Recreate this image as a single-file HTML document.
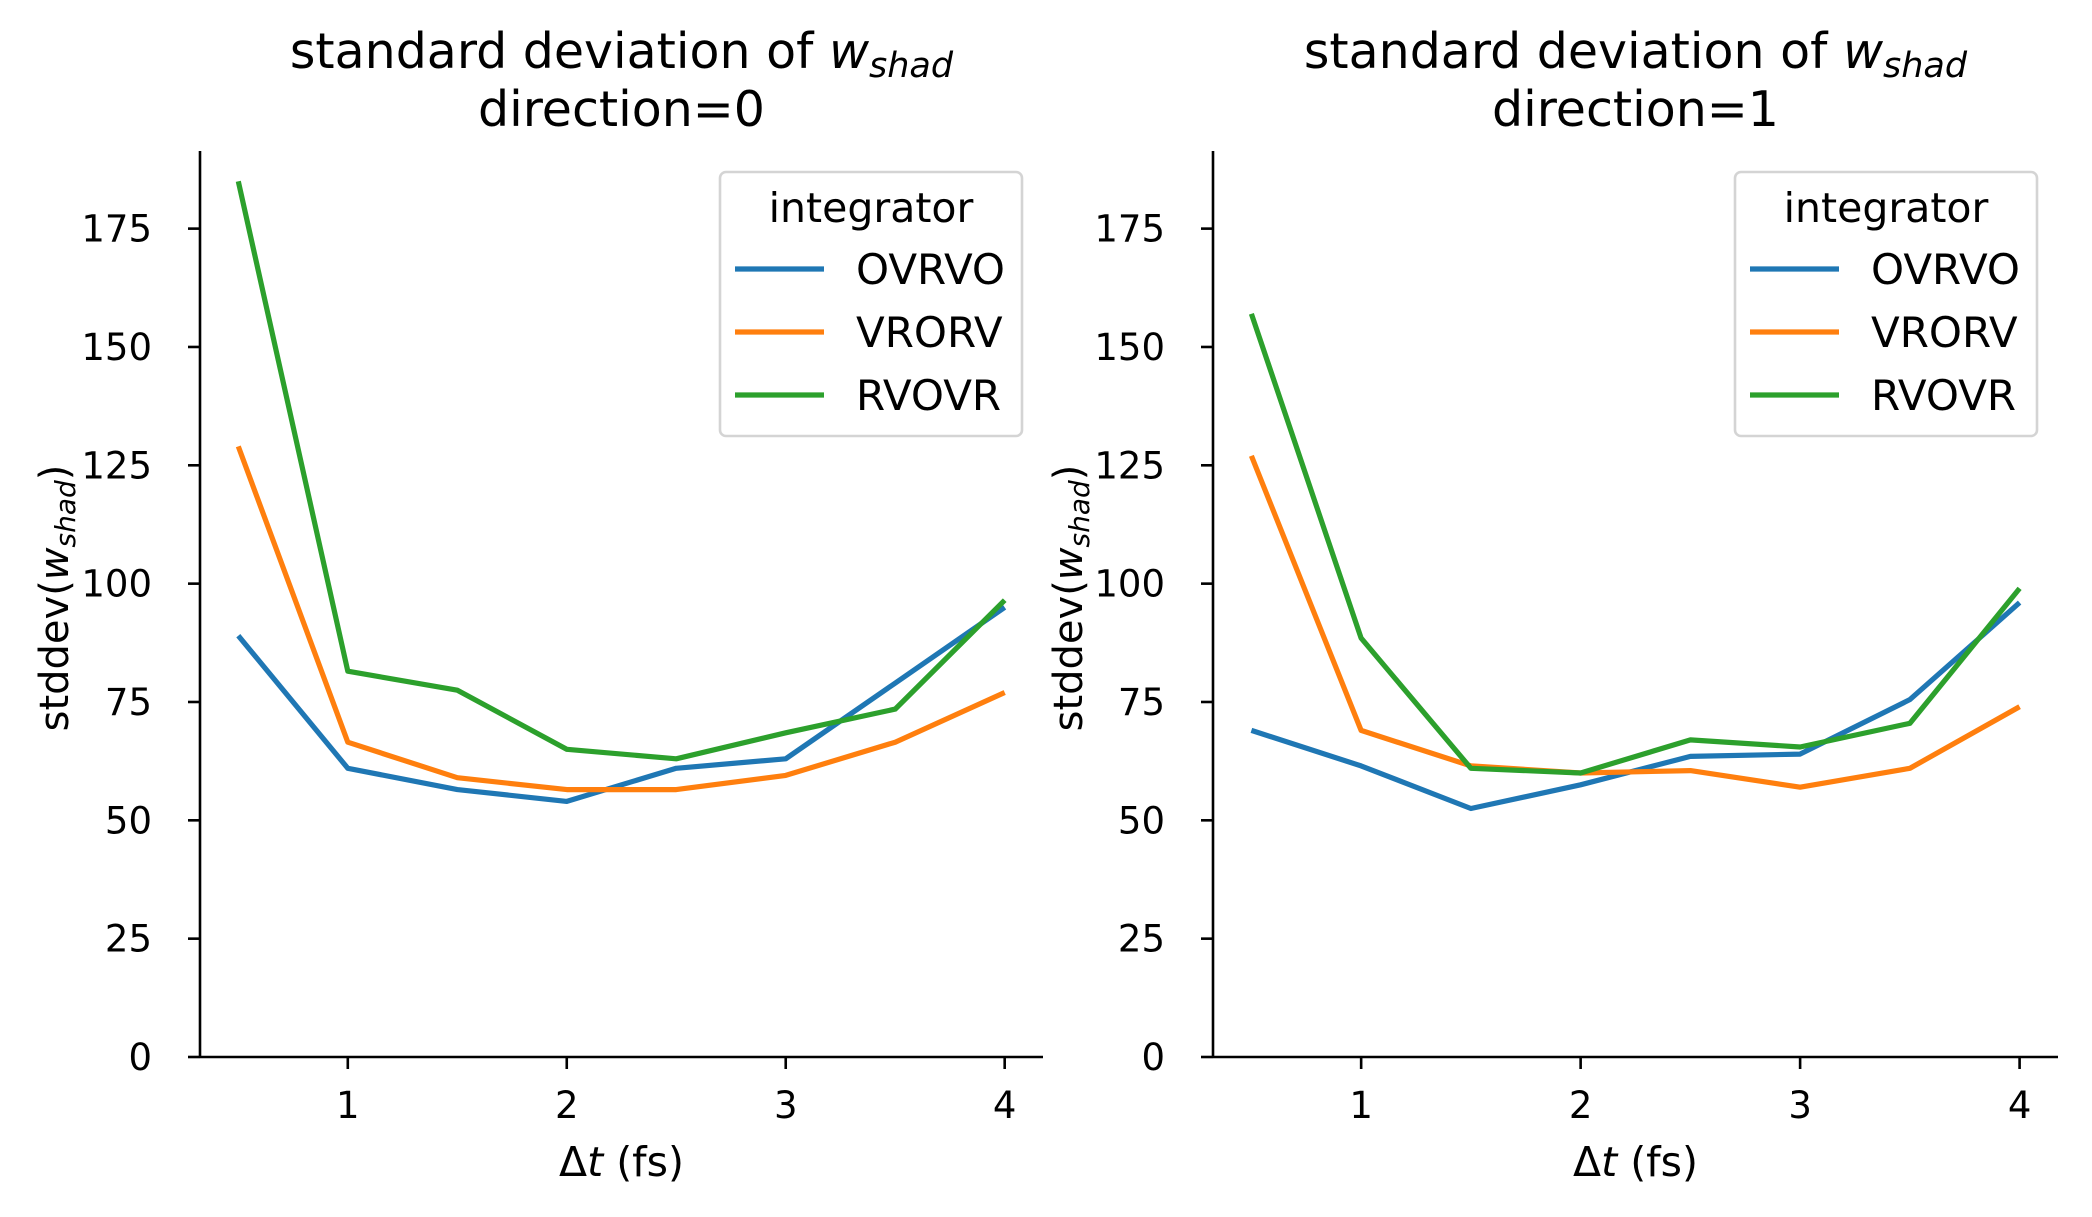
<!DOCTYPE html>
<html><head><meta charset="utf-8">
<style>
html,body{margin:0;padding:0;background:#fff;}
svg{display:block;font-family:"DejaVu Sans","Liberation Sans",sans-serif;}
</style></head>
<body>
<svg id="fig" width="2092" height="1217" viewBox="0 0 2092 1217" xmlns="http://www.w3.org/2000/svg"></svg>
<script>
const categories = [0.5, 1, 1.5, 2, 2.5, 3, 3.5, 4];
const seriesNames = ["OVRVO", "VRORV", "RVOVR"];
const dir0_OVRVO = [89, 61, 56.5, 54, 61, 63, 79, 95];
const dir0_VRORV = [129, 66.5, 59, 56.5, 56.5, 59.5, 66.5, 77];
const dir0_RVOVR = [185, 81.5, 77.5, 65, 63, 68.5, 73.5, 96.5];
const dir1_OVRVO = [69, 61.5, 52.5, 57.5, 63.5, 64, 75.5, 96];
const dir1_VRORV = [127, 69, 61.5, 60, 60.5, 57, 61, 74];
const dir1_RVOVR = [157, 88.5, 61, 60, 67, 65.5, 70.5, 99];
const yTicks = [0, 25, 50, 75, 100, 125, 150, 175];
const xTicks = [1, 2, 3, 4];
const panelTitles = ["direction=0", "direction=1"];

const colors = ["#1f77b4", "#ff7f0e", "#2ca02c"];
const NS = "http://www.w3.org/2000/svg";
const svg = document.getElementById("fig");
function mk(tag, attrs, parent) {
  const e = document.createElementNS(NS, tag);
  for (const k in attrs) e.setAttribute(k, attrs[k]);
  (parent || svg).appendChild(e);
  return e;
}
const panels = [
  {x0: 200, x1: 1043, data: [dir0_OVRVO, dir0_VRORV, dir0_RVOVR], title: panelTitles[0], ylx: 53},
  {x0: 1213, x1: 2058, data: [dir1_OVRVO, dir1_VRORV, dir1_RVOVR], title: panelTitles[1], ylx: 1067}
];
const yTop = 151, yBot = 1057, yMin = 0, yMax = 191.4, xMin = 0.325, xMax = 4.175;

panels.forEach((p, pi) => {
  const g = mk("g", {});
  
  
  const sx = v => p.x0 + (v - xMin) / (xMax - xMin) * (p.x1 - p.x0);
  const sy = v => yBot - (v - yMin) / (yMax - yMin) * (yBot - yTop);
  const cx = (p.x0 + p.x1) / 2;
  const t1 = mk("text", {x: cx, y: 68, "text-anchor": "middle", "font-size": 49, fill: "#000"}, g);
  
  
  t1.innerHTML = 'standard deviation of <tspan font-style="italic">w</tspan><tspan font-style="italic" font-size="35" dy="9">shad</tspan>';
  const t2 = mk("text", {x: cx, y: 126, "text-anchor": "middle", "font-size": 49, fill: "#000"}, g);
  
  
  t2.textContent = p.title;
  const ya = mk("line", {x1: p.x0, y1: yTop, x2: p.x0, y2: yBot, stroke: "#000", "stroke-width": 2.6}, g);
  
  
  const xa = mk("line", {x1: p.x0, y1: yBot, x2: p.x1, y2: yBot, stroke: "#000", "stroke-width": 2.6}, g);
  
  
  yTicks.forEach(v => {
    const y = sy(v);
    const tk = mk("line", {x1: p.x0 - 12, y1: y, x2: p.x0, y2: y, stroke: "#000", "stroke-width": 2.6}, g);
    
    
    const tl = mk("text", {x: p.x0 - 48, y: y + 13, "text-anchor": "end", "font-size": 37, fill: "#000"}, g);
    
    
    tl.textContent = v;
  });
  xTicks.forEach(v => {
    const x = sx(v);
    const tk = mk("line", {x1: x, y1: yBot, x2: x, y2: yBot + 12, stroke: "#000", "stroke-width": 2.6}, g);
    
    
    const tl = mk("text", {x: x, y: yBot + 61, "text-anchor": "middle", "font-size": 37, fill: "#000"}, g);
    
    
    tl.textContent = v;
  });
  const xl = mk("text", {x: cx, y: 1176, "text-anchor": "middle", "font-size": 41, fill: "#000"}, g);
  
  
  xl.innerHTML = 'Δ<tspan font-style="italic">t</tspan> (fs)';
  const yl = mk("text", {x: 0, y: 0, "text-anchor": "middle", "font-size": 40, fill: "#000", transform: `translate(${p.ylx + 15},${(yTop + yBot) / 2 - 6}) rotate(-90)`}, g);
  
  
  yl.innerHTML = 'stddev(<tspan font-style="italic">w</tspan><tspan font-style="italic" font-size="28" dy="7">shad</tspan><tspan dy="-7">)</tspan>';
  p.data.forEach((vals, si) => {
    const pts = vals.map((v, i) => sx(categories[i]).toFixed(1) + "," + sy(v).toFixed(1)).join(" ");
    const pl = mk("polyline", {points: pts, fill: "none", stroke: colors[si], "stroke-width": 5.2, "stroke-linejoin": "round"}, g);
    
    
  });
  const lx = p.x1 - 323, ly = 172;
  const lg = mk("g", {}, g);
  
  
  mk("rect", {x: lx, y: ly, width: 302, height: 264, rx: 6, fill: "#fff", "fill-opacity": 0.8, stroke: "#d4d4d4", "stroke-width": 2.6}, lg);
  const lt = mk("text", {x: lx + 151, y: ly + 50, "text-anchor": "middle", "font-size": 41, fill: "#000"}, lg);
  
  
  lt.textContent = "integrator";
  seriesNames.forEach((n, si) => {
    const y = ly + 97 + si * 63;
    const e = mk("g", {}, lg);
    
    
    mk("line", {x1: lx + 15, y1: y, x2: lx + 104, y2: y, stroke: colors[si], "stroke-width": 5.2}, e);
    const tx = mk("text", {x: lx + 136, y: y + 15, "font-size": 42, fill: "#000"}, e);
    tx.textContent = n;
  });
});
</script>
</body></html>
